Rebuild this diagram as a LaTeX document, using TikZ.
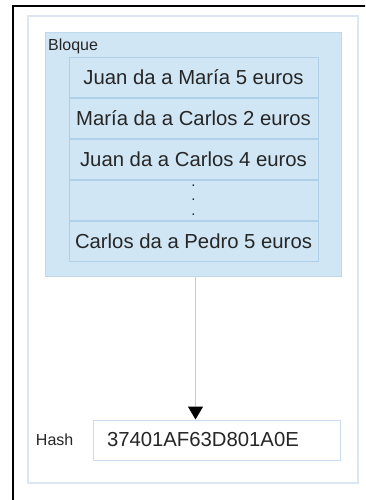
\documentclass[tikz,border=0pt]{standalone}
\usepackage{fontspec}
\setmainfont{Liberation Sans}
\usetikzlibrary{positioning,arrows.meta}
\definecolor{azulbloque}{RGB}{208,230,244}
\definecolor{bordebloque}{RGB}{190,217,236}
\definecolor{bordefila}{RGB}{176,207,232}
\definecolor{bordepanel}{RGB}{220,231,243}
\definecolor{bordehash}{RGB}{200,219,239}
\definecolor{texto}{RGB}{38,38,38}
\tikzset{
  every node/.style={font=\fontsize{20.3}{23}\selectfont,text=texto},
  panel/.style={
    rectangle,
    draw=bordepanel,
    line width=1.2pt,
    fill=white,
    minimum width=330pt,
    minimum height=467pt,
    inner sep=0pt
  },
  bloque/.style={
    rectangle,
    draw=bordebloque,
    line width=1pt,
    fill=azulbloque,
    minimum width=296pt,
    minimum height=243pt,
    inner sep=0pt
  },
  fila/.style={
    rectangle,
    draw=bordefila,
    line width=0.8pt,
    fill=azulbloque,
    minimum width=249pt,
    minimum height=40.2pt,
    inner sep=0pt
  },
  hashbox/.style={
    rectangle,
    draw=bordehash,
    line width=1pt,
    fill=white,
    minimum width=247pt,
    minimum height=40pt,
    text width=219pt,
    align=left,
    inner xsep=14pt
  },
  etiqueta/.style={font=\fontsize{16}{18}\selectfont,inner sep=0pt},
  flecha/.style={draw=black!20,line width=1.2pt,
    -{Triangle[width=15pt,length=13pt,color=black]}}
}

\begin{document}
\begin{tikzpicture}[x=1pt,y=-1pt]
  \useasboundingbox (0,0) rectangle (365,500);
  \clip (0,0) rectangle (365,500);

  % Marco exterior: solo se ven los bordes izquierdo y superior.
  \draw[line width=1.3pt] (13,520) -- (13,6) -- (380,6);

  % Panel y bloque de transacciones.
  \node[panel] (panel) at (193,249.5) {};
  \node[bloque] (bloque) at (193,154.5) {};
  \node[etiqueta,anchor=base west] (titulo) at (48,50.5) {Bloque};

  % Transacciones del bloque.
  \node[fila] (fila1) at (193.5,77.1) {Juan da a María 5 euros};
  \node[fila,below=0pt of fila1] (fila2) {María da a Carlos 2 euros};
  \node[fila,below=0pt of fila2] (fila3) {Juan da a Carlos 4 euros};
  \node[fila,below=0pt of fila3,align=center,font=\fontsize{15}{14.8}\selectfont]
    (fila4) {.\\.\\.};
  \node[fila,below=0pt of fila4] (fila5) {Carlos da a Pedro 5 euros};

  % Resultado del hash.
  \node[hashbox] (hash) at (216.5,440) {37401AF63D801A0E};
  \node[etiqueta,left=19pt of hash] (hashlabel) {Hash};

  \draw[flecha] ([xshift=2.5pt]bloque.south) -- ([xshift=2.5pt]bloque.south |- hash.north);
\end{tikzpicture}
\end{document}
